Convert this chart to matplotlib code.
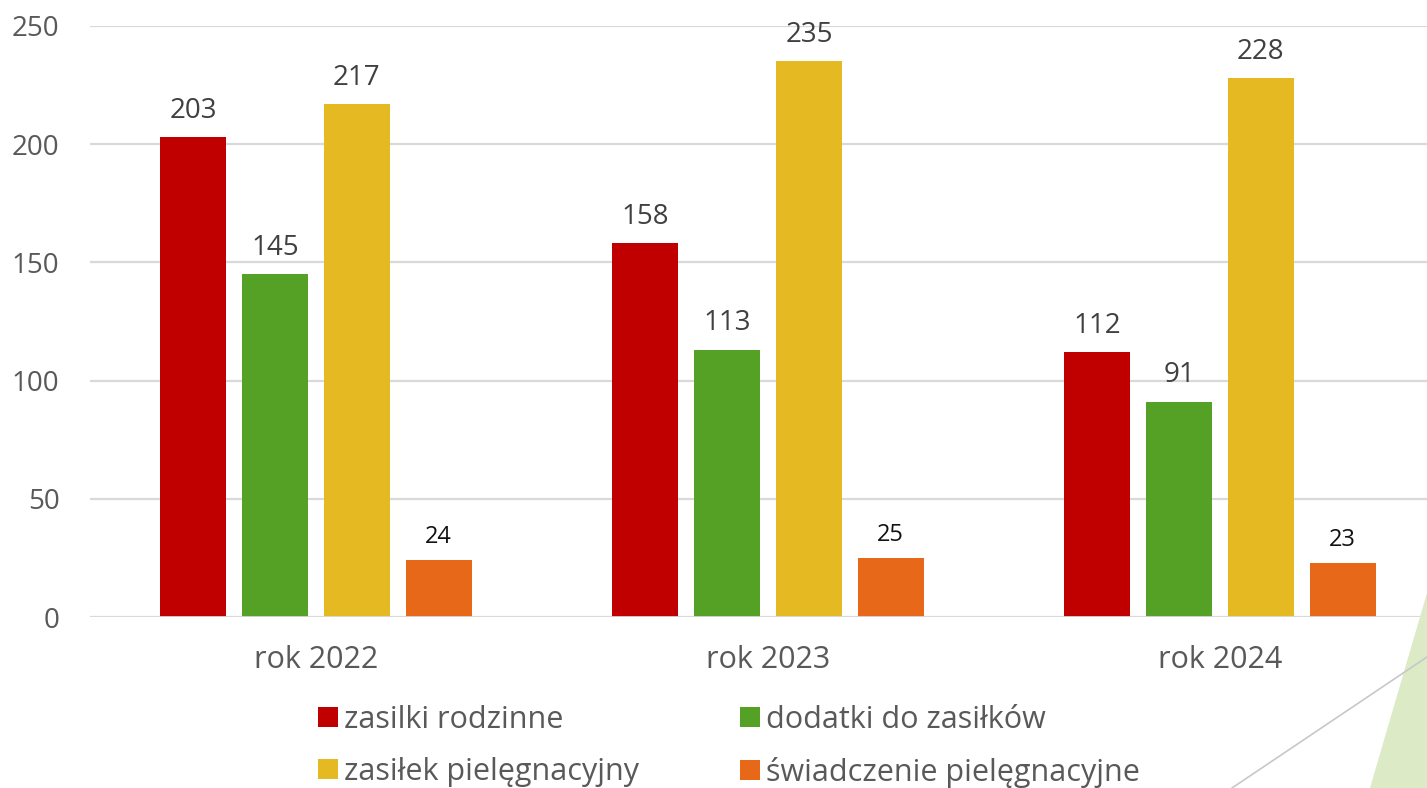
import matplotlib.pyplot as plt
from matplotlib.patches import Polygon
from matplotlib.lines import Line2D
import numpy as np

plt.rcParams['font.family'] = ['Open Sans', 'DejaVu Sans']

lata = ['rok 2022', 'rok 2023', 'rok 2024']
serie = ['zasilki rodzinne', 'dodatki do zasiłków',
         'zasiłek pielęgnacyjny', 'świadczenie pielęgnacyjne']
zasilki_rodzinne = [203, 158, 112]
dodatki = [145, 113, 91]
zasilek_pielegnacyjny = [217, 235, 228]
swiadczenie_pielegnacyjne = [24, 25, 23]
yticks = [0, 50, 100, 150, 200, 250]

kolory = ['#C00000', '#55A125', '#E5B921', '#E8681A']
szary = '#595959'

fig = plt.figure(figsize=(14.27, 7.88), dpi=100)
ax = fig.add_axes([90 / 1427, 171 / 788, 1 - 90 / 1427, 591 / 788])

x = np.arange(len(lata))
szer = 0.146
krok = 0.181
wartosci = [zasilki_rodzinne, dodatki, zasilek_pielegnacyjny, swiadczenie_pielegnacyjne]

uchwyty = []
for i, (vals, kol, nazwa) in enumerate(zip(wartosci, kolory, serie)):
    pos = x + (i - 1.5) * krok
    bars = ax.bar(pos, vals, width=szer, color=kol, label=nazwa, zorder=3)
    uchwyty.append(bars)
    for b, v in zip(bars, vals):
        if i == 3:
            ax.annotate(str(v), (b.get_x() + b.get_width() / 2, v), xytext=(0, 8),
                        textcoords='offset points', ha='center', va='bottom',
                        fontsize=17, color='#111111', fontweight='medium')
        else:
            ax.annotate(str(v), (b.get_x() + b.get_width() / 2, v), xytext=(0, 9),
                        textcoords='offset points', ha='center', va='bottom',
                        fontsize=20, color='#404040')

ax.set_xlim(-0.5, (1427 - 90) / 452 - 0.5)
ax.set_ylim(0, 250)
ax.set_yticks(yticks)
ax.set_xticks(x)
ax.set_xticklabels(lata)
ax.tick_params(axis='y', length=0, pad=22, labelsize=20, labelcolor=szary)
ax.tick_params(axis='x', length=0, pad=20, labelsize=22, labelcolor=szary)
ax.grid(axis='y', color='#D9D9D9', linewidth=1.6, zorder=0)
for s in ax.spines.values():
    s.set_visible(False)
ax.axhline(0, color='#D9D9D9', linewidth=2, zorder=4)

# kolejnosc wierszami: 1 2 / 3 4
kolejnosc = [0, 2, 1, 3]
fig.legend([uchwyty[k] for k in kolejnosc], [serie[k] for k in kolejnosc],
           loc='upper left', bbox_to_anchor=(318 / 1427, 1 - 705 / 788), ncol=2,
           frameon=False, fontsize=22, labelcolor=szary, handlelength=0.65,
           handleheight=0.65, handletextpad=0.2, columnspacing=3.3,
           labelspacing=0.72, borderpad=0, borderaxespad=0)

# dekoracja w prawym dolnym rogu
fig.add_artist(Polygon([(1427 / 1427, 1 - 593 / 788), (1370 / 1427, 0), (1, 0)],
                       closed=True, transform=fig.transFigure,
                       facecolor='#DCEAC6', edgecolor='none'))
fig.add_artist(Line2D([1232 / 1427, 1], [0, 1 - 657 / 788], transform=fig.transFigure,
                      color='#C8C8C8', linewidth=1.2))

fig.savefig('out.png', dpi=100)
